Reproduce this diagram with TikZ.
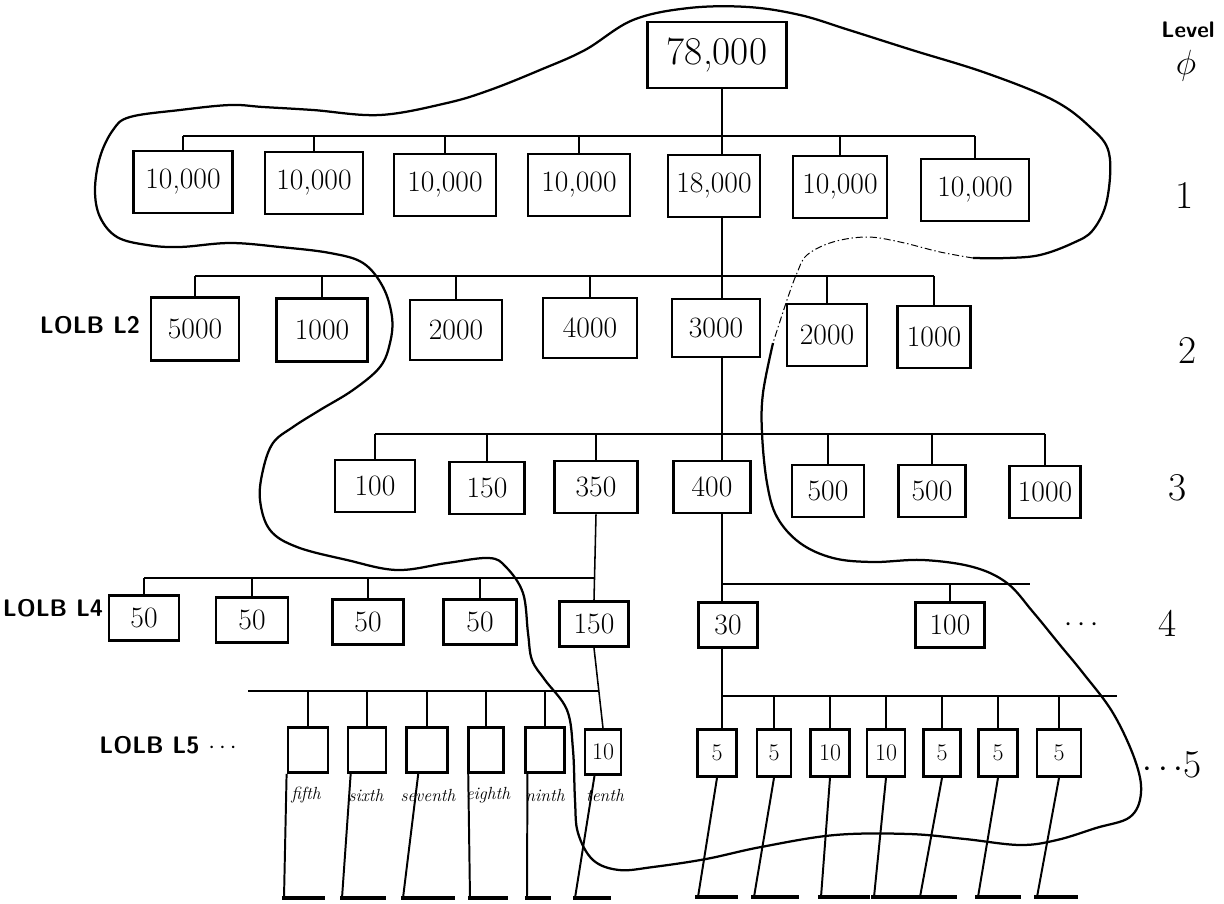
\documentclass[tikz,border=0pt]{standalone}
\usetikzlibrary{calc}
\newcommand\bx[6]{\node[box,minimum width=#4*0.025cm,minimum height=#5*0.025cm] (#1) at (#2,#3) {#6};}
\begin{document}
\begin{tikzpicture}[x=0.025cm,y=-0.025cm,
  box/.style={draw,line width=2pt,inner sep=0pt,font=\fontsize{21}{24}\selectfont},
  smallbox/.style={box,font=\fontsize{17}{19}\selectfont},
  ln/.style={line width=1.1pt},
  leg/.style={line width=1.4pt},
  foot/.style={line width=2.4pt},
  blob/.style={line width=1.6pt},
  blobdash/.style={line width=0.7pt,dash pattern=on 5pt off 2pt on 1pt off 2pt},
  lvl/.style={font=\fontsize{28}{32}\selectfont},
  lolb/.style={font=\sffamily\bfseries\fontsize{17}{20}\selectfont},
  ord/.style={font=\itshape\fontsize{12.5}{14}\selectfont}]
\useasboundingbox (0,0) rectangle (1224,903);

% enclosing curve
\draw[blob] plot[smooth,tension=0.6] coordinates {
 (773,343) (763,393) (762,433) (767,483) (777,517) (800,543) (833,558) (873,562) (923,560) (973,567) (1007,583) (1033,612) (1060,645) (1083,673) (1113,713) (1135,760) (1141,793) (1130,817) (1096,828) (1057,840) (1020,845) (965,839) (909,834) (835,835) (761,847) (706,859) (653,867) (619,870) (593,860) (578,833) (575,800) (573,750) (567,710) (545,680) (532,660) (528,633) (523,593) (506,567) (489,558) (447,563) (397,570) (347,560) (297,547) (270,530) (260,500) (263,470) (273,443) (293,427) (320,410) (353,390) (380,367) (390,343) (392,317) (383,287) (363,263) (330,253) (280,247) (230,243) (180,247) (147,245) (117,237) (100,217) (95,190) (100,157) (113,130) (130,117) (180,110) (230,105) (263,107) (313,110) (380,115) (447,103) (490,90) (540,70) (585,50) (633,20) (689,8) (748,7) (800,15) (849,30) (912,50) (986,73) (1053,100) (1090,127) (1109,153) (1107,200) (1093,230) (1073,243) (1040,255) (1007,258) (973,258)};
\draw[blobdash] plot[smooth,tension=0.6] coordinates {
 (973,258) (940,252) (900,242) (867,237) (833,242) (807,255) (797,273) (787,300) (773,343)};

% level 0
\node[box,minimum width=139*0.025cm,minimum height=66*0.025cm,font=\fontsize{28}{32}\selectfont] (r) at (717,55) {78,000};

% level 1
\bx{a1}{183}{182}{99}{62}{10,000}
\bx{a2}{314}{183}{98}{62}{10,000}
\bx{a3}{445}{185}{102}{62}{10,000}
\bx{a4}{579}{185}{102}{62}{10,000}
\bx{a5}{714}{186}{92}{62}{18,000}
\bx{a6}{840}{187}{94}{62}{10,000}
\bx{a7}{975}{190}{108}{62}{10,000}

% level 2
\bx{b1}{195}{329}{88}{63}{5000}
\bx{b2}{322}{330}{91}{63}{1000}
\bx{b3}{456}{330}{92}{60}{2000}
\bx{b4}{590}{328}{94}{60}{4000}
\bx{b5}{716}{328}{88}{58}{3000}
\bx{b6}{827}{335}{80}{62}{2000}
\bx{b7}{934}{337}{73}{62}{1000}

% level 3
\bx{c1}{375}{486}{80}{52}{100}
\bx{c2}{487}{488}{75}{52}{150}
\bx{c3}{596}{487}{83}{52}{350}
\bx{c4}{712}{487}{77}{52}{400}
\bx{c5}{828}{491}{72}{52}{500}
\bx{c6}{932}{491}{67}{52}{500}
\bx{c7}{1045}{492}{71}{52}{1000}

% level 4
\bx{d1}{144}{618}{70}{45}{50}
\bx{d2}{252}{620}{72}{45}{50}
\bx{d3}{368}{622}{71}{45}{50}
\bx{d4}{480}{622}{73}{45}{50}
\bx{d5}{594}{624}{69}{45}{150}
\bx{d6}{728}{625}{59}{45}{30}
\bx{d7}{950}{625}{69}{45}{100}

% level 5 left
\node[smallbox,minimum width=40*0.025cm,minimum height=45*0.025cm] (e1) at (308,750) {};
\node[smallbox,minimum width=38*0.025cm,minimum height=45*0.025cm] (e2) at (367,750) {};
\node[smallbox,minimum width=41*0.025cm,minimum height=45*0.025cm] (e3) at (427,750) {};
\node[smallbox,minimum width=35*0.025cm,minimum height=45*0.025cm] (e4) at (486,750) {};
\node[smallbox,minimum width=39*0.025cm,minimum height=45*0.025cm] (e5) at (545,750) {};
\node[smallbox,minimum width=36*0.025cm,minimum height=45*0.025cm] (e6) at (603,752) {10};

% level 5 right
\node[smallbox,minimum width=39*0.025cm,minimum height=47*0.025cm] (f1) at (717,753) {5};
\node[smallbox,minimum width=34*0.025cm,minimum height=47*0.025cm] (f2) at (774,753) {5};
\node[smallbox,minimum width=39*0.025cm,minimum height=47*0.025cm] (f3) at (830,753) {10};
\node[smallbox,minimum width=38*0.025cm,minimum height=47*0.025cm] (f4) at (886,753) {10};
\node[smallbox,minimum width=37*0.025cm,minimum height=47*0.025cm] (f5) at (942,753) {5};
\node[smallbox,minimum width=39*0.025cm,minimum height=47*0.025cm] (f6) at (998,753) {5};
\node[smallbox,minimum width=44*0.025cm,minimum height=47*0.025cm] (f7) at (1059,753) {5};

% bus coordinates
\coordinate (sp) at (722,0);
\coordinate (B1) at (0,136);
\coordinate (B2) at (0,276);
\coordinate (B3) at (0,434);
\coordinate (B4l) at (147,578);
\coordinate (B4r) at (0,584);
\coordinate (B4e) at (1030,584);
\coordinate (B5l) at (248,691);
\coordinate (B5r) at (0,696);
\coordinate (B5e) at (1117,696);

% spine (right)
\draw[ln] (r.south -| sp) -- (a5.north -| sp);
\draw[ln] (a5.south -| sp) -- (b5.north -| sp);
\draw[ln] (b5.south -| sp) -- (c4.north -| sp);
\draw[ln] (c4.south -| sp) -- (d6.north -| sp);
\draw[ln] (d6.south -| sp) -- (f1.north -| sp);

% level 1 bus + drops
\draw[ln] (a1.north |- B1) -- (a7.north |- B1);
\foreach \n in {a1,a2,a3,a4,a6,a7} \draw[ln] (\n.north |- B1) -- (\n.north);
% level 2
\draw[ln] (b1.north |- B2) -- (b7.north |- B2);
\foreach \n in {b1,b2,b3,b4,b6,b7} \draw[ln] (\n.north |- B2) -- (\n.north);
% level 3
\draw[ln] (c1.north |- B3) -- (c7.north |- B3);
\foreach \n in {c1,c2,c3,c5,c6,c7} \draw[ln] (\n.north |- B3) -- (\n.north);
% level 4
\draw[ln] (c3.south) -- (d5.north);
\coordinate (B4m) at (intersection cs: first line={(c3.south)--(d5.north)}, second line={(B4l)--(1000,578)});
\draw[ln] (d1.north |- B4l) -- (B4m);
\foreach \n in {d1,d2,d3,d4} \draw[ln] (\n.north |- B4l) -- (\n.north);
\draw[ln] (sp |- B4r) -- (B4e);
\draw[ln] (d7.north |- B4r) -- (d7.north);
% level 5
\draw[ln] (d5.south) -- (e6.north);
\coordinate (B5m) at (intersection cs: first line={(d5.south)--(e6.north)}, second line={(B5l)--(1000,691)});
\draw[ln] (B5l) -- (B5m);
\foreach \n in {e1,e2,e3,e4,e5} \draw[ln] (\n.north |- B5l) -- (\n.north);
\draw[ln] (sp |- B5r) -- (B5e);
\foreach \n in {f2,f3,f4,f5,f6,f7} \draw[ln] (\n.north |- B5r) -- (\n.north);

% legs left
\foreach \n/\fr/\bx/\len in {e1/0/284/43, e2/0.1/342/46, e3/0.3/403/54, e4/0.03/470/40, e5/0.08/527/26, e6/0.28/575/38}{
  \coordinate (\n f) at (\bx,898);
  \draw[leg] ($(\n.south west)!\fr!(\n.south east)$) -- (\n f);
  \draw[foot] ($(\n f)+(-2,0)$) -- ++(\len,0);
}
% legs right
\foreach \n/\bx/\len in {f1/698/43, f2/754/48, f3/821/52, f4/874/54, f5/920/40, f6/978/46, f7/1037/44}{
  \coordinate (\n f) at (\bx,897);
  \draw[leg] (\n.south) -- (\n f);
  \draw[foot] ($(\n f)+(-3,0)$) -- ++(\len,0);
}

% ordinal labels
\node[ord] (o1) at (306,795) {fifth};
\node[ord] (o2) at (366,795) {sixth};
\node[ord] (o3) at (428,795) {seventh};
\node[ord] (o4) at (488,795) {eighth};
\node[ord] (o5) at (545,795) {ninth};
\node[ord] (o6) at (605,795) {tenth};

% side labels
\node[lolb] (L2) at (90,325) {LOLB L2};
\node[lolb] (L4) at (53,608) {LOLB L4};
\node[lolb] (L5) at (168,745) {LOLB L5 $\cdots$};
\node[font=\fontsize{22}{24}\selectfont] (dots4) at (1082,625) {$\cdots$};

% level column
\node[font=\sffamily\bfseries\fontsize{16}{18}\selectfont] (lv) at (1188,30) {Level};
\node[font=\fontsize{26}{30}\selectfont] (lv0) at (1186,66) {$\phi$};
\node[lvl] (lv1) at (1185,195) {1};
\node[lvl] (lv2) at (1188,350) {2};
\node[lvl] (lv3) at (1178,488) {3};
\node[lvl] (lv4) at (1168,623) {4};
\node[lvl] (lv5) at (1172,765) {$\cdots$5};
\end{tikzpicture}
\end{document}
